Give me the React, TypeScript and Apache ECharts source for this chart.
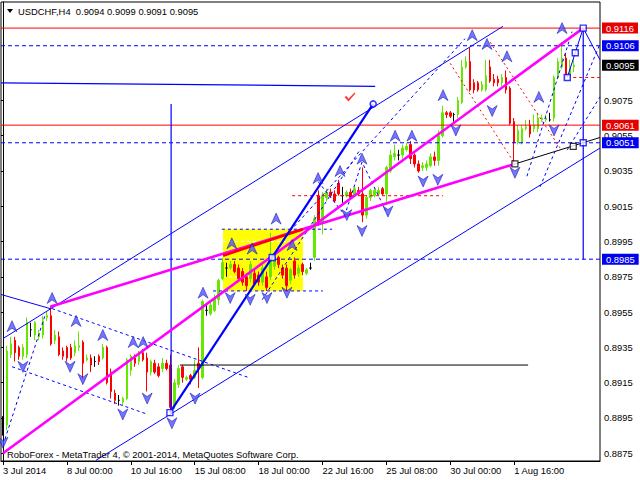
import React, { useEffect, useRef } from 'react';
import * as echarts from 'echarts';

// ---------- data ----------
const symbolName = 'USDCHF';
const timeframe = 'H4';

const opens = [
  0.8889, 0.8891, 0.8931, 0.8939, 0.8935, 0.8930, 0.8931, 0.8945, 0.8942, 0.8941,
  0.8942, 0.8952, 0.8953, 0.8939, 0.8941, 0.8933, 0.8935, 0.8935, 0.8932, 0.8935,
  0.8938, 0.8928, 0.8929, 0.8927, 0.8930, 0.8929, 0.8935, 0.8921, 0.8909, 0.8905,
  0.8904, 0.8906, 0.8922, 0.8929, 0.8927, 0.8932, 0.8929, 0.8921, 0.8926, 0.8924,
  0.8923, 0.8926, 0.8925, 0.8902, 0.8914, 0.8924, 0.8917, 0.8919, 0.8918, 0.8926,
  0.8918, 0.8956, 0.8954, 0.8956, 0.8962, 0.8974, 0.8980, 0.8980, 0.8982, 0.8980,
  0.8978, 0.8975, 0.8974, 0.8977, 0.8976, 0.8972, 0.8975, 0.8975, 0.8981, 0.8986,
  0.8980, 0.8980, 0.8973, 0.8984, 0.8977, 0.8982, 0.8977, 0.8980, 0.8986, 0.9021,
  0.9006, 0.9020, 0.9023, 0.9022, 0.9028, 0.9021, 0.9021, 0.9023, 0.9021, 0.9024,
  0.9022, 0.9010, 0.9020, 0.9021, 0.9022, 0.9025, 0.9022, 0.9035, 0.9043, 0.9044,
  0.9044, 0.9047, 0.9050, 0.9044, 0.9039, 0.9037, 0.9037, 0.9038, 0.9043, 0.9041,
  0.9055, 0.9068, 0.9068, 0.9067, 0.9067, 0.9074, 0.9094, 0.9097, 0.9085, 0.9085,
  0.9081, 0.9081, 0.9094, 0.9087, 0.9087, 0.9085, 0.9088, 0.9082, 0.9063, 0.9051,
  0.9051, 0.9059, 0.9061, 0.9059, 0.9059, 0.9064, 0.9064, 0.9064, 0.9065, 0.9088,
  0.9094, 0.9099, 0.9089, 0.9094,
];
const closes = [
  0.8889, 0.8933, 0.8937, 0.8932, 0.8930, 0.8935, 0.8949, 0.8945, 0.8949, 0.8943,
  0.8950, 0.8953, 0.8937, 0.8942, 0.8931, 0.8930, 0.8929, 0.8929, 0.8936, 0.8936,
  0.8926, 0.8929, 0.8925, 0.8927, 0.8927, 0.8935, 0.8915, 0.8910, 0.8905, 0.8905,
  0.8906, 0.8928, 0.8930, 0.8926, 0.8932, 0.8928, 0.8921, 0.8927, 0.8921, 0.8919,
  0.8926, 0.8923, 0.8901, 0.8915, 0.8923, 0.8918, 0.8918, 0.8917, 0.8922, 0.8923,
  0.8961, 0.8956, 0.8959, 0.8963, 0.8973, 0.8983, 0.8980, 0.8982, 0.8978, 0.8974,
  0.8972, 0.8970, 0.8982, 0.8971, 0.8972, 0.8980, 0.8969, 0.8986, 0.8986, 0.8982,
  0.8976, 0.8970, 0.8979, 0.8976, 0.8980, 0.8978, 0.8979, 0.8980, 0.9008, 0.9006,
  0.9021, 0.9023, 0.9021, 0.9018, 0.9022, 0.9021, 0.9023, 0.9020, 0.9025, 0.9022,
  0.9010, 0.9020, 0.9024, 0.9024, 0.9024, 0.9022, 0.9037, 0.9044, 0.9045, 0.9044,
  0.9048, 0.9049, 0.9042, 0.9039, 0.9035, 0.9038, 0.9039, 0.9043, 0.9041, 0.9055,
  0.9068, 0.9067, 0.9066, 0.9067, 0.9075, 0.9094, 0.9097, 0.9081, 0.9081, 0.9081,
  0.9084, 0.9089, 0.9086, 0.9085, 0.9085, 0.9088, 0.9081, 0.9062, 0.9051, 0.9058,
  0.9059, 0.9060, 0.9056, 0.9061, 0.9065, 0.9065, 0.9065, 0.9064, 0.9088, 0.9097,
  0.9099, 0.9089, 0.9094, 0.9095,
];
const lows = [
  0.8885, 0.8888, 0.8929, 0.8927, 0.8928, 0.8928, 0.8929, 0.8941, 0.8939, 0.8939,
  0.8940, 0.8950, 0.8936, 0.8937, 0.8930, 0.8928, 0.8927, 0.8928, 0.8930, 0.8933,
  0.8917, 0.8927, 0.8921, 0.8924, 0.8925, 0.8928, 0.8914, 0.8906, 0.8903, 0.8902,
  0.8902, 0.8905, 0.8919, 0.8924, 0.8925, 0.8927, 0.8910, 0.8919, 0.8920, 0.8918,
  0.8921, 0.8922, 0.8897, 0.8900, 0.8912, 0.8915, 0.8916, 0.8914, 0.8917, 0.8912,
  0.8917, 0.8953, 0.8953, 0.8955, 0.8959, 0.8973, 0.8975, 0.8979, 0.8977, 0.8973,
  0.8970, 0.8967, 0.8972, 0.8970, 0.8970, 0.8970, 0.8967, 0.8973, 0.8979, 0.8980,
  0.8974, 0.8967, 0.8971, 0.8974, 0.8975, 0.8976, 0.8976, 0.8979, 0.8984, 0.9004,
  0.8999, 0.9018, 0.9020, 0.9017, 0.9021, 0.9017, 0.9020, 0.9019, 0.9020, 0.9021,
  0.9006, 0.9008, 0.9018, 0.9020, 0.9021, 0.9021, 0.9016, 0.9034, 0.9041, 0.9041,
  0.9042, 0.9046, 0.9039, 0.9037, 0.9034, 0.9035, 0.9035, 0.9037, 0.9038, 0.9038,
  0.9054, 0.9065, 0.9065, 0.9063, 0.9065, 0.9073, 0.9093, 0.9080, 0.9079, 0.9080,
  0.9080, 0.9080, 0.9085, 0.9083, 0.9083, 0.9083, 0.9079, 0.9061, 0.9039, 0.9050,
  0.9050, 0.9058, 0.9054, 0.9057, 0.9057, 0.9063, 0.9063, 0.9063, 0.9063, 0.9087,
  0.9093, 0.9087, 0.9088, 0.9091,
];
const highs = [
  0.8896, 0.8936, 0.8941, 0.8941, 0.8936, 0.8937, 0.8952, 0.8949, 0.8950, 0.8945,
  0.8953, 0.8955, 0.8958, 0.8945, 0.8944, 0.8935, 0.8936, 0.8937, 0.8939, 0.8944,
  0.8939, 0.8931, 0.8931, 0.8930, 0.8931, 0.8937, 0.8936, 0.8923, 0.8911, 0.8908,
  0.8907, 0.8929, 0.8931, 0.8931, 0.8933, 0.8934, 0.8932, 0.8928, 0.8928, 0.8926,
  0.8929, 0.8928, 0.8931, 0.8917, 0.8925, 0.8925, 0.8919, 0.8920, 0.8928, 0.8935,
  0.8962, 0.8959, 0.8961, 0.8965, 0.8974, 0.8986, 0.8983, 0.8984, 0.8984, 0.8982,
  0.8980, 0.8977, 0.8984, 0.8979, 0.8978, 0.8982, 0.8978, 0.9000, 0.8987, 0.8987,
  0.8982, 0.8982, 0.8980, 0.8986, 0.8982, 0.8983, 0.8980, 0.8983, 0.9010, 0.9024,
  0.9023, 0.9025, 0.9025, 0.9024, 0.9030, 0.9026, 0.9024, 0.9025, 0.9026, 0.9026,
  0.9037, 0.9021, 0.9025, 0.9025, 0.9026, 0.9026, 0.9038, 0.9047, 0.9050, 0.9047,
  0.9050, 0.9051, 0.9052, 0.9045, 0.9041, 0.9040, 0.9041, 0.9045, 0.9046, 0.9058,
  0.9072, 0.9069, 0.9069, 0.9068, 0.9077, 0.9098, 0.9100, 0.9105, 0.9087, 0.9086,
  0.9086, 0.9098, 0.9098, 0.9090, 0.9089, 0.9090, 0.9092, 0.9083, 0.9065, 0.9061,
  0.9061, 0.9064, 0.9064, 0.9067, 0.9068, 0.9067, 0.9067, 0.9068, 0.9089, 0.9099,
  0.9108, 0.9102, 0.9098, 0.9099,
];

// time axis: bar index of each labelled tick and its text
const tickIndex = [0, 16, 32, 48, 64, 80, 96, 112, 128];
const tickText = ['3 Jul 2014', '8 Jul 00:00', '10 Jul 16:00', '15 Jul 08:00', '18 Jul 00:00',
  '22 Jul 16:00', '25 Jul 08:00', '30 Jul 00:00', '1 Aug 16:00'];

// price scale tick labels
const priceTickMin = 0.8875;
const priceTickMax = 0.9075;
const priceTickStep = 0.002;

// horizontal levels with price boxes
const levelPrices = [0.9116, 0.9106, 0.9095, 0.9061, 0.9051, 0.8985];

// drawn objects: [barIndex, price]
const channelUpper = [[0, 0.8940], [125.2, 0.9117]];
const channelLower = [[23.3, 0.8871], [149.5, 0.9048]];
const leftLine = [[-0.5, 0.8965], [11.8, 0.8957]];
const line9085 = [[-0.5, 0.9085], [93.2, 0.9083]];
const vLine1 = [[42.1, 0.9073], [42.1, 0.8898]];
const vLine2 = [[145.3, 0.9116], [145.3, 0.8985]];
const forecast = [[141.3, 0.9088], [143.3, 0.9102], [145.3, 0.9116], [149.5, 0.9098]];
const blackFan = [[128.2, 0.9039], [149.5, 0.9054]];
const blackLevel = [[44.3, 0.8925], [131.5, 0.8925]];
const impulse = [[41.8, 0.8898], [92.7, 0.9073]];
const magentaLong = [[0, 0.8875], [145.3, 0.9116]];
const magentaMid = [[11.8, 0.8958], [128.2, 0.9039]];
const boxDiagonal = [[55.1, 0.8987], [75.1, 0.9002]];
const boxArea = [[55.1, 0.9002], [75.1, 0.8967]];
const boxInner1 = [[55.1, 0.8995], [75.1, 0.8995]];
const boxInner2 = [[55.1, 0.8975], [75.1, 0.8975]];
const boxTop = [[54.8, 0.9002], [82.4, 0.9002]];
const boxBottom = [[52.6, 0.8967], [80.1, 0.8967]];
const redDash1 = [[72.4, 0.9021], [110.2, 0.9021]];
const redDash2 = [[142.8, 0.9088], [149.5, 0.9088]];
const redDash3 = [[112, 0.9096], [128.2, 0.9039]];
const redDash4 = [[122, 0.9108], [139.5, 0.9048]];
const blueDash1 = [[12.3, 0.8957], [61.4, 0.8918]];
const blueDash2 = [[2.3, 0.8924], [36.3, 0.8897]];
const blueDash3 = [[0.5, 0.8883], [10.5, 0.8953]];
const blueDash4 = [[71.9, 0.9001], [115.7, 0.9110]];
const blueDash5 = [[131.2, 0.9032], [142.5, 0.9114]];
const blueDash6 = [[134.5, 0.9026], [149.5, 0.9107]];
const blueDash7 = [[141.3, 0.9047], [149.5, 0.9077]];
const blueDash8 = [[78.9, 0.9029], [85.6, 0.9010], [89.9, 0.9040], [96.4, 0.9010]];
const blueDash9 = [[64.9, 0.8962], [89.4, 0.9047]];

const fractalUp = [
  [2.25, 0.8947], [12.3, 0.8963], [18.3, 0.8950], [25.0, 0.8942], [32.6, 0.8938], [35.1, 0.8938],
  [50.1, 0.8966], [57.3, 0.8994], [62.4, 0.8991], [68.4, 0.9008], [72.4, 0.8993], [78.9, 0.9031],
  [84.4, 0.9035], [89.9, 0.9042], [98.2, 0.9055], [102.4, 0.9055], [110.2, 0.9078], [117.5, 0.9112],
  [121.2, 0.9107], [126.2, 0.9100], [134.2, 0.9077], [140.0, 0.9116],
];
const fractalDown = [
  [0, 0.8881], [5.0, 0.8924], [16.8, 0.8924], [20.0, 0.8917], [30.0, 0.8897], [36.1, 0.8906],
  [42.3, 0.8892], [48.1, 0.8906], [56.9, 0.8963], [61.9, 0.8962], [66.1, 0.8963], [71.1, 0.8966],
  [86.1, 0.9010], [89.9, 0.9001], [96.4, 0.9012], [105.2, 0.9029], [108.9, 0.9030], [113.4, 0.9058],
  [122.5, 0.9069], [128.2, 0.9034], [138.0, 0.9058],
];
const blueSquares = [[41.8, 0.8898], [67.4, 0.8986], [141.3, 0.9088], [143.3, 0.9102], [145.3, 0.9116], [145.3, 0.9051]];
const blackSquares = [[128.2, 0.9039], [142.8, 0.9049]];
const circles = [[92.7, 0.9073]];
const checks = [[86.9, 0.9077]];

// ---------- styles ----------
const FONT = "'Liberation Sans', Arial, sans-serif";
const FS = 9.4;
const BLUE = '#0000ff';
const MAGENTA = '#ff00ff';
const RED = '#ff0000';
const GREEN = '#66e600';
const N_CAT = 150;
const DASH = [4, 3];
const levelLineColor = [RED, BLUE, null, RED, BLUE, BLUE];
const levelLineType = ['solid', DASH, 'solid', 'solid', DASH, DASH];
const levelBoxColor = ['#e60000', '#0000f0', '#000000', '#e60000', '#0000f0', '#0000f0'];
const ARROW = 'path://M5,0 L10,11 L5,7.5 L0,11 Z';
const CHECK = 'path://M0,5 L2,4 L4,7 L10,0 L11,1 L4,10 Z';

function seg(data: number[][], color: string, width: number, type: any = 'solid', z = 5) {
  return {
    type: 'line', xAxisIndex: 1, yAxisIndex: 0, data, symbol: 'none', silent: true, z,
    lineStyle: { color, width, type }, emphasis: { disabled: true },
  };
}

function buildOption() {
  const cats = Array.from({ length: N_CAT }, (_, i) => String(i));
  const tickSet = new Set(tickIndex);
  const candleData = opens.map((o, i) => {
    const item: any = { value: [o, closes[i], lows[i], highs[i]] };
    if (o === closes[i]) item.itemStyle = { color: '#000', borderColor: '#000', color0: '#000', borderColor0: '#000' };
    return item;
  });
  const last = opens.length - 1;
  const header = `${symbolName},${timeframe}  ${opens[last].toFixed(4)} ${highs[last].toFixed(4)} ${lows[last].toFixed(4)} ${closes[last].toFixed(4)}`;

  const levelSeries = levelPrices
    .map((v, k) => (levelLineColor[k]
      ? seg([[-0.5, v], [N_CAT - 0.5, v]], levelLineColor[k] as string, 1, levelLineType[k], 4)
      : null))
    .filter(Boolean);

  return {
    animation: false,
    textStyle: { fontFamily: FONT },
    grid: [
      { left: 1, right: 40, top: 2, bottom: 19, show: true, borderColor: '#000', borderWidth: 1, backgroundColor: '#fff' },
      { left: 1, right: 40, top: 100.43, bottom: 26.76 },
    ],
    xAxis: [
      {
        type: 'category', gridIndex: 0, data: cats, boundaryGap: true,
        axisLine: { show: true, lineStyle: { color: '#000' } },
        axisTick: { show: true, alignWithLabel: true, interval: (i: number) => tickSet.has(i), length: 4, lineStyle: { color: '#000' } },
        axisLabel: {
          interval: (i: number) => tickSet.has(i),
          formatter: (v: string) => { const k = tickIndex.indexOf(Number(v)); return k >= 0 ? tickText[k] : ''; },
          align: 'left', color: '#000', fontSize: FS, fontFamily: FONT, margin: 5,
        },
        splitLine: { show: false },
      },
      { type: 'value', gridIndex: 0, min: -0.5, max: N_CAT - 0.5, show: false },
      { type: 'value', gridIndex: 1, min: 0, max: 1, show: false },
    ],
    yAxis: [
      {
        type: 'value', gridIndex: 0, position: 'right', min: 0.88706, max: 0.91308,
        axisLine: { show: true, lineStyle: { color: '#000' } }, axisTick: { show: false },
        axisLabel: { show: false }, splitLine: { show: false },
      },
      {
        type: 'value', gridIndex: 1, position: 'right', min: priceTickMin, max: priceTickMax, interval: priceTickStep,
        axisLine: { show: false }, axisTick: { show: true, length: 3, lineStyle: { color: '#000' } },
        axisLabel: { color: '#000', fontSize: FS, fontFamily: FONT, margin: 4, formatter: (v: number) => v.toFixed(4) },
        splitLine: { show: false },
      },
    ],
    series: [
      {
        type: 'line', xAxisIndex: 1, yAxisIndex: 0, data: boxArea, symbol: 'none', silent: true, z: 1,
        lineStyle: { width: 0, opacity: 0 },
        markArea: {
          silent: true, itemStyle: { color: '#ffff00' },
          data: [[{ coord: boxArea[0] }, { coord: boxArea[1] }]],
        },
      },
      {
        type: 'candlestick', xAxisIndex: 0, yAxisIndex: 0, z: 3, barWidth: 2, silent: true,
        data: candleData,
        itemStyle: { color: GREEN, color0: RED, borderColor: GREEN, borderColor0: RED, borderWidth: 1 },
      },
      ...levelSeries,
      seg(boxInner1, '#ffffff', 1, [3, 3], 2),
      seg(boxInner2, '#ffffff', 1, [3, 3], 2),
      seg(boxTop, BLUE, 1, [3, 3]),
      seg(boxBottom, BLUE, 1, [3, 3]),
      seg(channelUpper, BLUE, 1),
      seg(channelLower, BLUE, 1),
      seg(leftLine, BLUE, 1),
      seg(line9085, BLUE, 1.2),
      seg(vLine1, BLUE, 1.2),
      seg(vLine2, BLUE, 1.2),
      seg(forecast, BLUE, 1),
      seg(blackFan, '#000', 1),
      seg(blackLevel, '#000', 1),
      seg(redDash1, RED, 1, [3, 3]),
      seg(redDash2, RED, 1, [3, 3]),
      seg(redDash3, RED, 1, [2, 3]),
      seg(redDash4, RED, 1, [2, 3]),
      seg(blueDash1, BLUE, 1, [3, 3]),
      seg(blueDash2, BLUE, 1, [3, 3]),
      seg(blueDash3, BLUE, 1, [3, 3]),
      seg(blueDash4, BLUE, 1, [3, 3]),
      seg(blueDash5, BLUE, 1, [3, 3]),
      seg(blueDash6, BLUE, 1, [3, 3]),
      seg(blueDash7, BLUE, 1, [3, 3]),
      seg(blueDash8, BLUE, 1, [3, 3]),
      seg(blueDash9, BLUE, 1, [3, 3]),
      seg(magentaLong, MAGENTA, 2.6, 'solid', 6),
      seg(magentaMid, MAGENTA, 2.6, 'solid', 6),
      seg(boxDiagonal, RED, 2.6, 'solid', 6),
      seg(impulse, BLUE, 2.2, 'solid', 6),
      {
        type: 'line', xAxisIndex: 1, yAxisIndex: 0, data: [[-5, 0.9], [-4, 0.9]], symbol: 'none', silent: true, z: 9,
        lineStyle: { opacity: 0 },
        markLine: {
          silent: true, symbol: ['none', 'none'], precision: 4, z: 9,
          data: levelPrices.map((v, k) => ({
            yAxis: v,
            lineStyle: { color: 'rgba(0,0,0,0)', width: 1 },
            label: {
              show: true, position: 'end', distance: 2, formatter: v.toFixed(4),
              backgroundColor: levelBoxColor[k], color: '#fff', fontSize: FS, fontFamily: FONT,
              padding: [1, 4, 0, 4], lineHeight: 10,
            },
          })),
        },
      },
      {
        type: 'scatter', xAxisIndex: 1, yAxisIndex: 0, data: fractalUp, symbol: ARROW, symbolSize: [10, 11], z: 7, silent: true,
        itemStyle: { color: '#5252ff', borderColor: '#0000a0', borderWidth: 0.6 },
      },
      {
        type: 'scatter', xAxisIndex: 1, yAxisIndex: 0, data: fractalDown, symbol: ARROW, symbolRotate: 180, symbolSize: [10, 11], z: 7, silent: true,
        itemStyle: { color: '#5252ff', borderColor: '#0000a0', borderWidth: 0.6 },
      },
      {
        type: 'scatter', xAxisIndex: 1, yAxisIndex: 0, data: blueSquares, symbol: 'rect', symbolSize: 6, z: 8, silent: true,
        itemStyle: { color: '#ffffff', borderColor: BLUE, borderWidth: 1.4 },
      },
      {
        type: 'scatter', xAxisIndex: 1, yAxisIndex: 0, data: blackSquares, symbol: 'rect', symbolSize: 6, z: 8, silent: true,
        itemStyle: { color: '#ffffff', borderColor: '#000', borderWidth: 1.2 },
      },
      {
        type: 'scatter', xAxisIndex: 1, yAxisIndex: 0, data: circles, symbol: 'circle', symbolSize: 6, z: 8, silent: true,
        itemStyle: { color: '#ffffff', borderColor: BLUE, borderWidth: 1.6 },
      },
      {
        type: 'scatter', xAxisIndex: 1, yAxisIndex: 0, data: checks, symbol: CHECK, symbolSize: [11, 9], z: 8, silent: true,
        itemStyle: { color: RED },
      },
    ],
    graphic: [
      { type: 'polygon', shape: { points: [[7, 9], [13, 9], [10, 13]] }, style: { fill: '#000' }, z: 100 },
      { type: 'text', x: 18, y: 11, style: { text: header, fill: '#000', font: `${FS}px ${FONT}`, verticalAlign: 'middle' }, z: 100 },
      { type: 'text', x: 7, y: 454, style: { text: 'RoboForex - MetaTrader 4, © 2001-2014, MetaQuotes Software Corp.', fill: '#000', font: `${FS}px ${FONT}`, verticalAlign: 'middle' }, z: 100 },
    ],
  };
}

export default function App() {
  const ref = useRef<HTMLDivElement>(null);
  useEffect(() => {
    document.body.style.margin = '0';
    const chart = echarts.init(ref.current!, null, { renderer: 'svg' });
    chart.setOption(buildOption() as any);
    return () => chart.dispose();
  }, []);
  return <div ref={ref} style={{ width: 640, height: 480 }} />;
}
